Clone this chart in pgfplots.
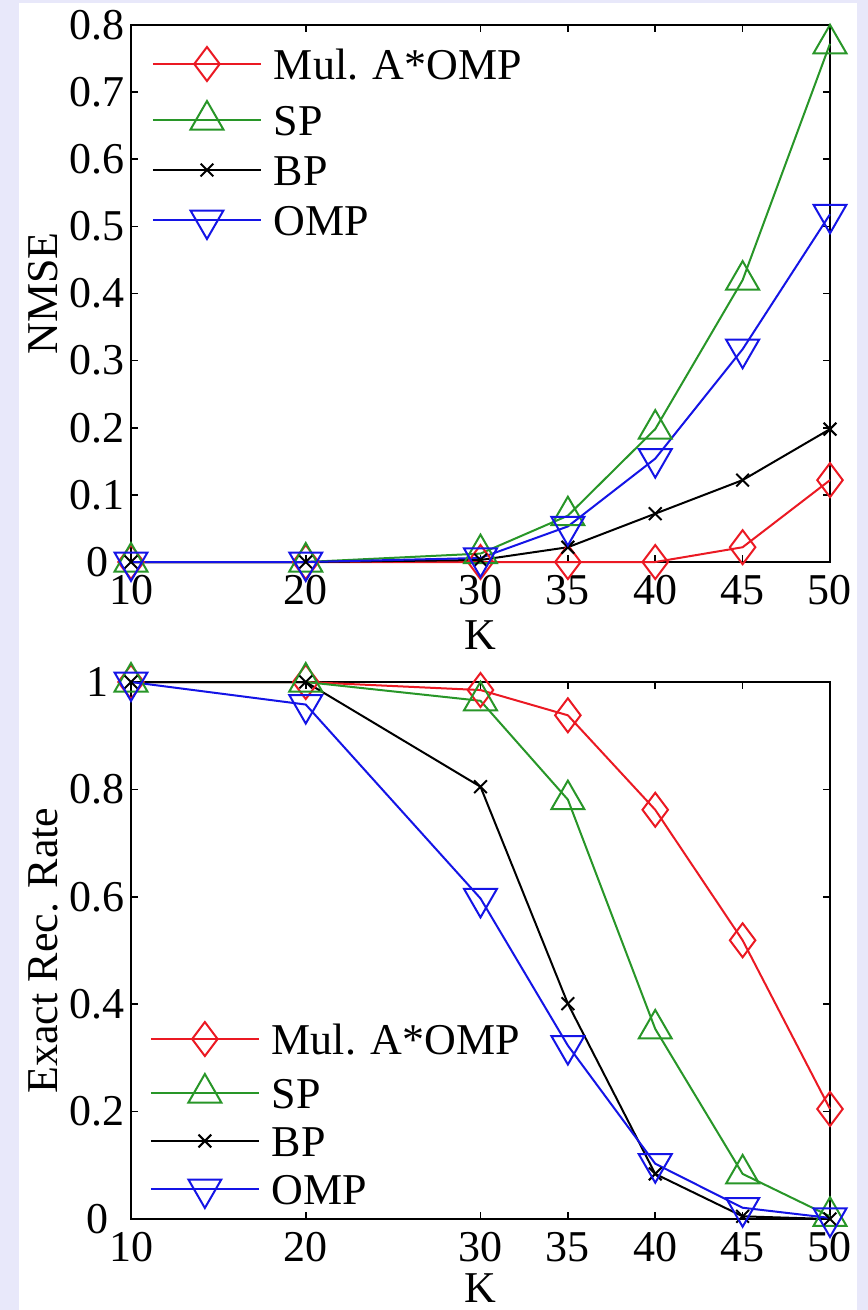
\documentclass[border=0pt]{standalone}
\usepackage{pgfplots}
\pgfplotsset{compat=1.18}
\usepackage{fontspec}
\setmainfont{Liberation Serif}
\definecolor{lav}{RGB}{232,232,250}
\definecolor{myred}{RGB}{235,25,35}
\definecolor{mygreen}{RGB}{40,150,40}
\definecolor{myblue}{RGB}{20,20,230}
\newcommand{\ff}{\fontsize{22bp}{24bp}\selectfont}
\pgfplotsset{
 myaxis/.style={
  scale only axis, width=349.5bp, height=268.5bp, anchor=south west,
  xmin=10, xmax=50, xtick={10,20,30,35,40,45,50},
  tick align=inside, major tick length=3.5bp,
  axis line style={line width=1.3bp, black},
  tick style={line width=0.8bp, black},
  /pgf/number format/assume math mode=true,
  ticklabel style={font=\ff},
  xticklabel style={yshift=-3bp},
  yticklabel style={anchor=center, xshift=-17bp},
  label style={font=\ff},
  xlabel style={at={(axis description cs:0.5,-0.136)}, anchor=center},
  ylabel style={at={(axis description cs:-0.125,0.5)}, anchor=center, rotate=0},
  clip=false,
  legend cell align=left,
  legend image code/.code={\draw[mark repeat=2,mark phase=2] plot coordinates {(0bp,0bp)(27bp,0bp)(54bp,0bp)};},
  legend style={draw=none, fill=none, inner sep=0pt, outer sep=0pt, font=\ff,
    row sep=10bp, column sep=6bp,
    nodes={inner sep=0pt, text height=15bp, text depth=0pt}},
 },
 sA/.style={color=myred, line width=1bp, mark=diamond, mark size=8.5bp, mark options={solid, line width=1bp}},
 sB/.style={color=mygreen, line width=1bp, mark=triangle, mark size=9.5bp, mark options={solid, line width=1bp}},
 sC/.style={color=black, line width=1bp, mark=x, mark size=4.5bp, mark options={solid, line width=1bp}},
 sD/.style={color=myblue, line width=1bp, mark=triangle, mark size=9.5bp, mark options={solid, line width=1bp, rotate=180}},
}
\begin{document}
\begin{tikzpicture}
\fill[lav] (0,0) rectangle (434bp,-655bp);
\fill[white] (9.5bp,-1.5bp) rectangle (428.5bp,-655bp);
\begin{axis}[myaxis, at={(65.5bp,-281bp)},
  ymin=0, ymax=0.8, ytick={0,0.1,0.2,0.3,0.4,0.5,0.6,0.7,0.8},
  yticklabels={0,0.1,0.2,0.3,0.4,0.5,0.6,0.7,0.8},
  xlabel={K}, ylabel={NMSE},
  legend style={at={(axis description cs:0.030,0.959)}, anchor=north west}]
\addplot[sA] coordinates {(10,0) (20,0) (30,0) (35,0) (40,0) (45,0.022) (50,0.122)};
\addplot[sB] coordinates {(10,0) (20,0) (30,0.0125) (35,0.069) (40,0.198) (45,0.42) (50,0.772)};
\addplot[sC] coordinates {(10,0) (20,0) (30,0.003) (35,0.022) (40,0.072) (45,0.122) (50,0.198)};
\addplot[sD] coordinates {(10,0) (20,0) (30,0.006) (35,0.053) (40,0.154) (45,0.317) (50,0.518)};
\legend{Mul. A*OMP, SP, BP, OMP}
\end{axis}
\begin{axis}[myaxis, at={(65.5bp,-609.5bp)},
  ymin=0, ymax=1, ytick={0,0.2,0.4,0.6,0.8,1},
  yticklabels={0,0.2,0.4,0.6,0.8,1},
  xlabel={K}, ylabel={Exact Rec. Rate},
  xlabel style={at={(axis description cs:0.5,-0.128)}},
  legend style={at={(axis description cs:0.027,0.0205)}, anchor=south west, row sep=9bp}]
\addplot[sA] coordinates {(10,1) (20,1) (30,0.985) (35,0.938) (40,0.762) (45,0.519) (50,0.205)};
\addplot[sB] coordinates {(10,1) (20,1) (30,0.965) (35,0.781) (40,0.354) (45,0.084) (50,0.005)};
\addplot[sC] coordinates {(10,1) (20,1) (30,0.805) (35,0.401) (40,0.084) (45,0.005) (50,0)};
\addplot[sD] coordinates {(10,1) (20,0.958) (30,0.597) (35,0.323) (40,0.103) (45,0.021) (50,0.002)};
\legend{Mul. A*OMP, SP, BP, OMP}
\end{axis}
\pgfresetboundingbox
\path (0,0) rectangle (434bp,-655bp);
\end{tikzpicture}
\end{document}
